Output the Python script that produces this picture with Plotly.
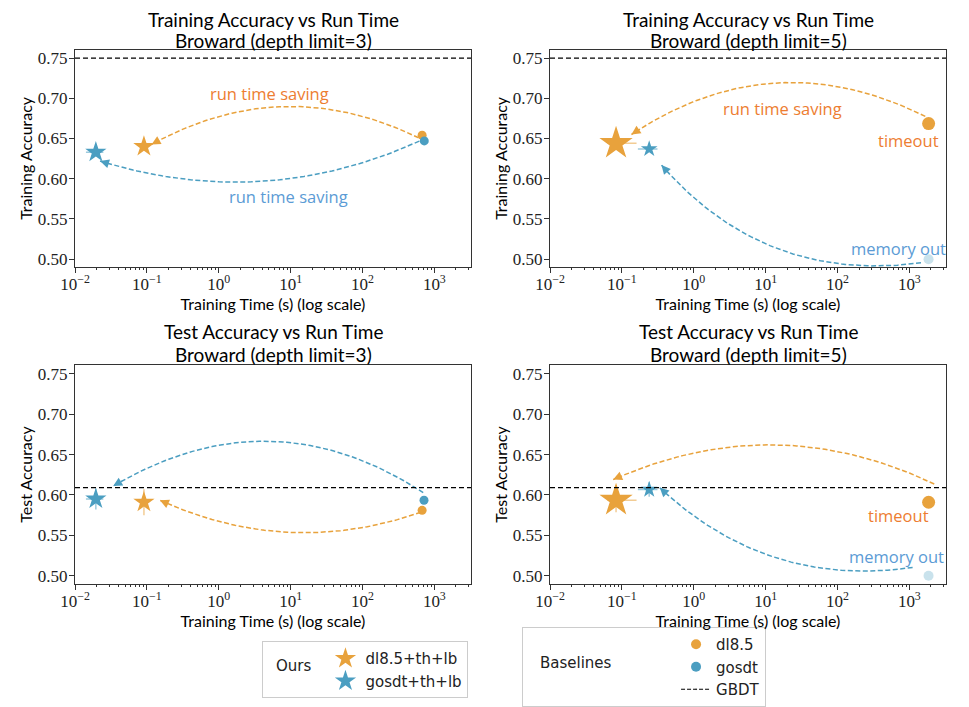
import numpy as np
import plotly.graph_objects as go

# ---------------- data ----------------
panel_titles = ["Training Accuracy vs Run Time", "Training Accuracy vs Run Time",
                "Test Accuracy vs Run Time", "Test Accuracy vs Run Time"]
panel_subtitles = ["Broward (depth limit=3)", "Broward (depth limit=5)",
                   "Broward (depth limit=3)", "Broward (depth limit=5)"]
y_labels = ["Training Accuracy", "Training Accuracy", "Test Accuracy", "Test Accuracy"]
x_label = "Training Time (s) (log scale)"

# ours
time_dl85_ours = [0.091, 0.083, 0.091, 0.083]
acc_dl85_ours = [0.640, 0.644, 0.591, 0.5935]
time_dl85_ours_err_plus = [0.004, 0.077, 0.008, 0.077]
time_dl85_ours_err_minus = [0.004, 0.02, 0.008, 0.02]
acc_dl85_ours_err = [0.002, 0.002, 0.016, 0.015]

time_gosdt_ours = [0.0195, 0.24, 0.0195, 0.24]
acc_gosdt_ours = [0.633, 0.637, 0.595, 0.6067]
time_gosdt_ours_err = [0.0053, 0.073, 0.0053, 0.073]
acc_gosdt_ours_err = [0.002, 0.002, 0.013, 0.009]

# baselines
time_dl85 = [676, 1854, 676, 1854]
acc_dl85 = [0.654, 0.6685, 0.581, 0.591]
time_gosdt = [724, 1850, 718, 1850]
acc_gosdt = [0.647, 0.500, 0.5935, 0.500]
gosdt_failed = [False, True, False, True]
dl85_timeout = [False, True, False, True]
gbdt_acc = [0.75, 0.75, 0.609, 0.609]

# annotation arrows (data units): tail, head, curvature
arrows = [
    # panel, colour key, tail x, tail y, head x, head y, rad
    (0, "o", 605, 0.6509, 0.116, 0.6426, 0.26),
    (0, "b", 618, 0.6467, 0.0223, 0.622, -0.19),
    (1, "o", 1667, 0.6775, 0.136, 0.655, 0.29),
    (1, "b", 1452, 0.4956, 0.356, 0.617, -0.27),
    (2, "b", 700, 0.603, 0.034, 0.611, 0.31),
    (2, "o", 650, 0.5786, 0.152, 0.5935, -0.20),
    (3, "o", 2222, 0.6136, 0.0757, 0.619, 0.23),
    (3, "b", 1111, 0.5103, 0.337, 0.609, -0.24),
]
# text labels (data units)
labels = [
    (0, "o", "run time saving", 5.1, 0.706),
    (0, "b", "run time saving", 9.4, 0.5775),
    (1, "o", "run time saving", 17, 0.6867),
    (1, "o", "timeout", 968, 0.648),
    (1, "b", "memory out", 703, 0.513),
    (3, "o", "timeout", 703, 0.5745),
    (3, "b", "memory out", 660, 0.524),
]
legend_titles = ["Ours", "Baselines"]

x_tick_vals = [0.01, 0.1, 1, 10, 100, 1000]
x_tick_text = ["10<sup>−2</sup>", "10<sup>−1</sup>", "10<sup>0</sup>",
               "10<sup>1</sup>", "10<sup>2</sup>", "10<sup>3</sup>"]
y_tick_vals = [0.50, 0.55, 0.60, 0.65, 0.70, 0.75]

# ---------------- style ----------------
ORANGE = "#E8A23C"
BLUE = "#4B9EC1"
ORANGE_ERR = "rgba(232,162,60,0.55)"
BLUE_ERR = "rgba(75,158,193,0.55)"
TXT = {"o": "#ED7D31", "b": "#5B9BD5"}
LINE = {"o": ORANGE, "b": BLUE}
AX = "#333333"
OFF = 8                      # page body margin
W, H = 969 - OFF, 707 - OFF


def fx(px):
    return (px - OFF) / W


def fy(py):
    return 1 - (py - OFF) / H


XR = [-2, 3.51]
YR = [0.4905, 0.7602]
xdom = [[fx(75), fx(471)], [fx(550), fx(946)]]
ydom = [[fy(268), fy(50)], [fy(586), fy(367)]]
PW, PH = 396, 218
title_rows = [(19.2, 41.0), (332.7, 355.7)]   # pixel centres of the two title lines

fig = go.Figure()

for i in range(4):
    r, c = divmod(i, 2)
    sfx = "" if i == 0 else str(i + 1)
    xa, ya = "x" + sfx, "y" + sfx
    big = dl85_timeout[i]

    # GBDT reference line
    fig.add_shape(type="line", xref=xa + " domain", yref=ya, x0=0, x1=1,
                  y0=gbdt_acc[i], y1=gbdt_acc[i],
                  line=dict(color="black", width=1.2, dash="5px,3px"))

    # baselines
    fig.add_trace(go.Scatter(
        x=[time_dl85[i]], y=[acc_dl85[i]], mode="markers", xaxis=xa, yaxis=ya,
        marker=dict(color=ORANGE, size=13 if big else 9, symbol="circle"),
        showlegend=False, name="dl8.5"))
    fig.add_trace(go.Scatter(
        x=[time_gosdt[i]], y=[acc_gosdt[i]], mode="markers", xaxis=xa, yaxis=ya,
        marker=dict(color=BLUE, size=10 if gosdt_failed[i] else 9, symbol="circle",
                    opacity=0.3 if gosdt_failed[i] else 1.0),
        showlegend=False, name="gosdt"))

    # ours
    fig.add_trace(go.Scatter(
        x=[time_dl85_ours[i]], y=[acc_dl85_ours[i]], mode="markers", xaxis=xa, yaxis=ya,
        marker=dict(color=ORANGE, size=25 if big else 16, symbol="star", line=dict(width=0)),
        error_x=dict(type="data", symmetric=False, array=[time_dl85_ours_err_plus[i]],
                     arrayminus=[time_dl85_ours_err_minus[i]], color=ORANGE_ERR,
                     thickness=1.5, width=0),
        error_y=dict(type="data", array=[acc_dl85_ours_err[i]], color=ORANGE_ERR,
                     thickness=1.5, width=0),
        showlegend=False, name="dl8.5+th+lb"))
    fig.add_trace(go.Scatter(
        x=[time_gosdt_ours[i]], y=[acc_gosdt_ours[i]], mode="markers", xaxis=xa, yaxis=ya,
        marker=dict(color=BLUE, size=12.5 if big else 16, symbol="star", line=dict(width=0)),
        error_x=dict(type="data", array=[time_gosdt_ours_err[i]], color=BLUE_ERR,
                     thickness=1.5, width=0),
        error_y=dict(type="data", array=[acc_gosdt_ours_err[i]], color=BLUE_ERR,
                     thickness=1.5, width=0),
        showlegend=False, name="gosdt+th+lb"))

    # axes
    fig.update_layout({
        ("xaxis" + sfx): dict(
            domain=xdom[c], anchor=ya, type="log", range=XR, automargin=False,
            tickmode="array", tickvals=x_tick_vals, ticktext=x_tick_text,
            ticks="outside", ticklen=5, tickwidth=1, tickcolor=AX,
            ticklabelstandoff=-3,
            showline=True, linecolor=AX, linewidth=1, mirror=True,
            showgrid=False, zeroline=False,
            tickfont=dict(family="Liberation Serif", size=17, color="#222"),
            minor=dict(ticks="outside", ticklen=2.5, tickcolor=AX,
                       tickvals=[m * 10.0 ** e for e in range(-2, 4) for m in range(2, 10)],
                       showgrid=False),
            title=dict(text=x_label, standoff=0,
                       font=dict(family="Lato", size=16, color="black")),
        ),
        ("yaxis" + sfx): dict(
            domain=ydom[r], anchor=xa, range=YR, automargin=False,
            tickmode="array", tickvals=y_tick_vals,
            ticktext=["%.2f" % v for v in y_tick_vals],
            ticks="outside", ticklen=5, tickwidth=1, tickcolor=AX,
            ticklabelstandoff=-2,
            showline=True, linecolor=AX, linewidth=1, mirror=True,
            showgrid=False, zeroline=False,
            tickfont=dict(family="Liberation Serif", size=17, color="#222"),
            title=dict(text=y_labels[i], standoff=1,
                       font=dict(family="Lato", size=16, color="black")),
        ),
    })

    # titles
    cx = (xdom[c][0] + xdom[c][1]) / 2
    row1, row2 = title_rows[r]
    fig.add_annotation(text=panel_titles[i], x=cx, y=fy(row1),
                       xref="paper", yref="paper", showarrow=False, borderpad=0,
                       xanchor="center", yanchor="middle",
                       font=dict(family="Lato", size=19, color="black"))
    fig.add_annotation(text=panel_subtitles[i], x=cx, y=fy(row2),
                       xref="paper", yref="paper", showarrow=False, borderpad=0,
                       xanchor="center", yanchor="middle",
                       font=dict(family="Lato", size=19, color="black"))


def to_px(x, y):
    return ((np.log10(x) - XR[0]) / (XR[1] - XR[0]) * PW,
            (y - YR[0]) / (YR[1] - YR[0]) * PH)


def from_px(px, py):
    return (10 ** (XR[0] + px / PW * (XR[1] - XR[0])),
            YR[0] + py / PH * (YR[1] - YR[0]))


for (i, ck, tx, ty, hx, hy, rad) in arrows:
    sfx = "" if i == 0 else str(i + 1)
    xa, ya = "x" + sfx, "y" + sfx
    x1, y1 = to_px(tx, ty)
    x2, y2 = to_px(hx, hy)
    dx, dy = x2 - x1, y2 - y1
    cxp, cyp = (x1 + x2) / 2 + rad * dy, (y1 + y2) / 2 - rad * dx
    t = np.linspace(0, 1, 80)
    bx = (1 - t) ** 2 * x1 + 2 * (1 - t) * t * cxp + t ** 2 * x2
    by = (1 - t) ** 2 * y1 + 2 * (1 - t) * t * cyp + t ** 2 * y2
    cxs, cys = from_px(bx, by)
    fig.add_trace(go.Scatter(x=cxs, y=cys, mode="lines", xaxis=xa, yaxis=ya,
                             line=dict(color=LINE[ck], width=1.5, dash="5px,2.5px"),
                             showlegend=False, hoverinfo="skip"))
    ux, uy = x2 - cxp, y2 - cyp
    n = np.hypot(ux, uy)
    ux, uy = ux / n, uy / n
    L = 9
    fig.add_annotation(x=np.log10(hx), y=hy, xref=xa, yref=ya, text="",
                       showarrow=True, arrowhead=2, arrowsize=1.2, arrowwidth=1.5,
                       arrowcolor=LINE[ck], ax=-ux * L, ay=uy * L, standoff=0)

for (i, ck, txt, lx, ly) in labels:
    sfx = "" if i == 0 else str(i + 1)
    fig.add_annotation(x=np.log10(lx), y=ly, xref="x" + sfx, yref="y" + sfx, text=txt,
                       showarrow=False, xanchor="center", yanchor="middle",
                       font=dict(family="Open Sans", size=16.5, color=TXT[ck]))

# legend-only traces
fig.add_trace(go.Scatter(x=[None], y=[None], mode="markers", name="dl8.5+th+lb",
                         marker=dict(color=ORANGE, size=17, symbol="star"), legend="legend"))
fig.add_trace(go.Scatter(x=[None], y=[None], mode="markers", name="gosdt+th+lb",
                         marker=dict(color=BLUE, size=17, symbol="star"), legend="legend"))
fig.add_trace(go.Scatter(x=[None], y=[None], mode="markers", name="dl8.5",
                         marker=dict(color=ORANGE, size=10, symbol="circle"), legend="legend2"))
fig.add_trace(go.Scatter(x=[None], y=[None], mode="markers", name="gosdt",
                         marker=dict(color=BLUE, size=10, symbol="circle"), legend="legend2"))
fig.add_trace(go.Scatter(x=[None], y=[None], mode="lines+markers", name="GBDT",
                         marker=dict(size=1, opacity=0, color="black"),
                         line=dict(color="black", width=1.2, dash="4px,2px"), legend="legend2"))

leg_font = dict(family="DejaVu Sans", size=15, color="#222")
leg_common = dict(yanchor="top", xanchor="left", bgcolor="white",
                  bordercolor="#cccccc", borderwidth=1, font=leg_font, tracegroupgap=0)
fig.update_layout(
    width=W, height=H,
    margin=dict(l=0, r=0, t=0, b=0),
    paper_bgcolor="white", plot_bgcolor="white",
    legend=dict(x=fx(262), y=fy(644),
                title=dict(text="&nbsp;" * 11, side="left", font=leg_font), **leg_common),
    legend2=dict(x=fx(522), y=fy(630),
                 title=dict(text="&nbsp;" * 30, side="left", font=leg_font), **leg_common),
)
# legend group titles, vertically centred beside the entries
fig.add_annotation(text=legend_titles[0], x=fx(293.5), y=fy(669), xref="paper", yref="paper",
                   showarrow=False, xanchor="center", yanchor="middle", font=leg_font)
fig.add_annotation(text=legend_titles[1], x=fx(576), y=fy(666), xref="paper", yref="paper",
                   showarrow=False, xanchor="center", yanchor="middle", font=leg_font)

fig.write_html("out.html")
